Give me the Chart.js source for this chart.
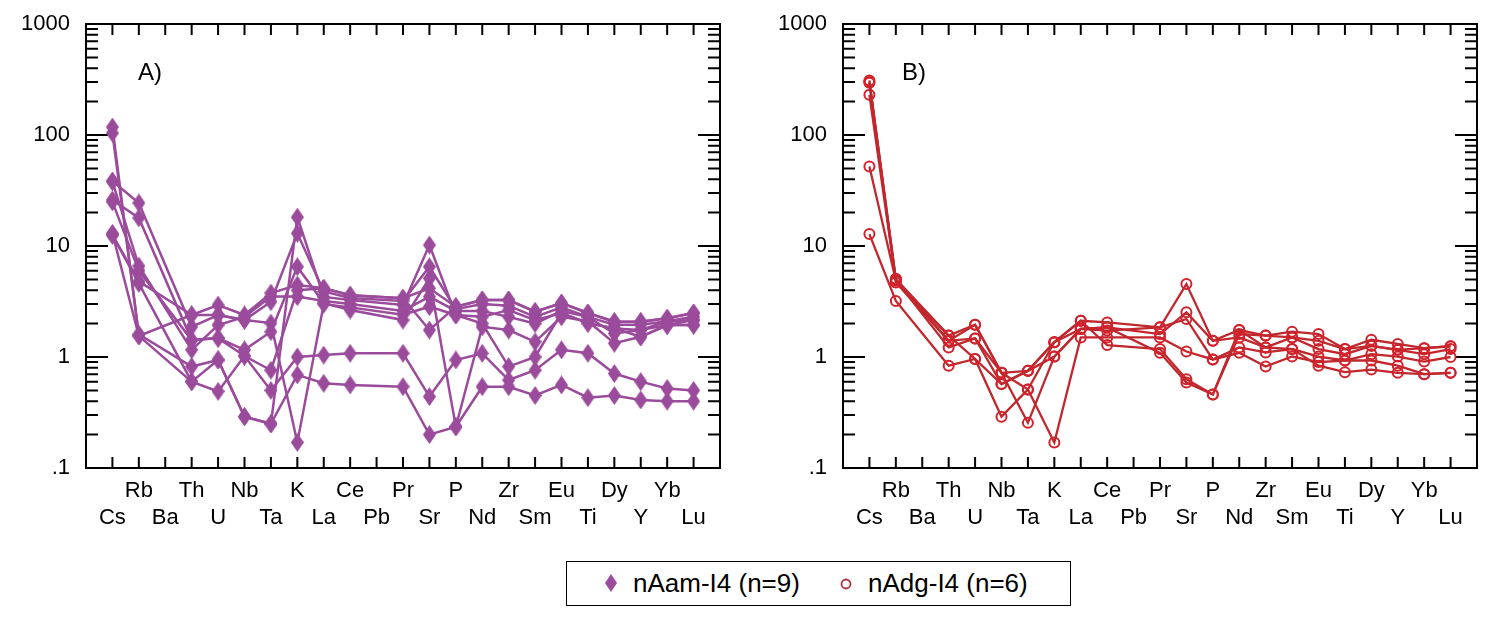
<!DOCTYPE html>
<html>
<head>
<meta charset="utf-8">
<script src="https://cdn.jsdelivr.net/npm/chart.js@4.4.1/dist/chart.umd.min.js"></script>
<style>
    body { margin: 0; background: #fff; width: 1499px; height: 628px; overflow: hidden; position: relative; font-family: 'Liberation Sans', Arial, sans-serif; }
    canvas.panel { position: absolute; top: 0; }
    #chartA { left: 0; }
    #chartB { left: 757px; }
    .tag { position: absolute; top: 58px; font-size: 24px; line-height: 28px; color: #000; }
    #legend { position: absolute; left: 566px; top: 561px; width: 505px; height: 45px; border: 1.5px solid #000; box-sizing: border-box; font-size: 26px; }
    #legend span { position: absolute; top: 6px; line-height: 30px; white-space: nowrap; }
    #legend canvas { position: absolute; }
</style>
</head>
<body>
<canvas id="chartA" class="panel" width="741" height="545"></canvas>
<canvas id="chartB" class="panel" width="741" height="545"></canvas>
<div class="tag" style="left:138px">A)</div>
<div class="tag" style="left:902px">B)</div>
<div id="legend">
    <canvas id="legDiamond" width="14" height="19" style="left:37px; top:12px"></canvas>
    <span style="left:66px">nAam-I4 (n=9)</span>
    <canvas id="legCircle" width="14" height="14" style="left:272px; top:15px"></canvas>
    <span style="left:301px">nAdg-I4 (n=6)</span>
</div>
<script>
// element order on the x axis (Ba and Pb have no data)
const elements = ['Cs', 'Rb', 'Ba', 'Th', 'U', 'Nb', 'Ta', 'K', 'La', 'Ce', 'Pb', 'Pr', 'Sr', 'P', 'Nd', 'Zr', 'Sm', 'Eu', 'Ti', 'Dy', 'Y', 'Yb', 'Lu'];
const yTickText = ['.1', '1', '10', '100', '1000'];

// A) nAam-I4 (n=9)
const am1 = [118, 1.55, null, 2.39, 2.94, 2.39, 3.77, 4.45, 4.16, 3.6, null, 3.38, 4.16, 2.84, 3.26, 3.26, 2.56, 3.06, 2.49, 2.08, 2.08, 2.23, 2.49];
const am2 = [104, 1.6, null, 0.82, 0.94, 0.29, 0.25, 18.2, 3.48, 3.26, null, 2.94, 10.2, 2.39, 2.3, 2.65, 2.15, 2.49, 2.02, 1.81, 1.75, 1.94, 2.15];
const am3 = [38.5, 24.4, null, 1.87, 2.39, 2.15, 3.15, 13.0, 3.9, 3.4, null, 3.2, 6.5, 2.7, 3.0, 2.9, 2.3, 2.8, 2.3, 1.95, 1.95, 2.1, 2.3];
const am4 = [26, 17.9, null, 1.42, 1.48, 1.16, 1.69, 6.5, 3.06, 2.65, null, 2.15, 5.1, 0.235, 1.87, 1.75, 1.37, 2.3, 2.1, 1.33, 1.52, 1.94, 1.94];
const am5 = [38, 6.6, null, 1.16, 1.94, 2.3, 3.5, 3.5, 3.2, 3.0, null, 2.6, 3.5, 2.6, 2.6, 2.3, 2.0, 2.6, 2.3, 1.63, 1.75, 2.1, 2.15];
const am6 = [12.6, 4.8, null, 2.39, 2.39, 2.15, 2.02, 0.17, 3.0, 2.8, null, 2.4, 2.84, 2.39, 2.0, 0.82, 1.0, 2.49, 2.02, 1.81, 1.52, 1.94, 1.94];
const am7 = [25, 6.0, null, 1.42, 1.48, 1.02, 0.76, 4.0, 4.16, 3.6, null, 3.38, 1.75, 2.84, 3.26, 3.26, 2.56, 3.06, 2.49, 2.08, 2.08, 2.23, 2.49];
const am8 = [12.5, 4.6, null, 0.60, 0.49, 1.02, 0.50, 1.0, 1.04, 1.08, null, 1.08, 0.44, 0.94, 1.08, 0.62, 0.76, 1.16, 1.08, 0.71, 0.60, 0.52, 0.50];
const am9 = [13, 1.55, null, 0.60, 0.94, 0.29, 0.25, 0.69, 0.58, 0.56, null, 0.54, 0.2, 0.235, 0.54, 0.54, 0.45, 0.56, 0.43, 0.45, 0.41, 0.40, 0.40];

// B) nAdg-I4 (n=6)
const dg1 = [310, 5.04, null, 1.56, 1.95, 0.72, 0.51, 1.36, 2.12, 2.05, null, 1.85, 4.54, 1.40, 1.75, 1.56, 1.69, 1.61, 1.18, 1.43, 1.31, 1.20, 1.25];
const dg2 = [300, 4.7, null, 1.40, 1.47, 0.57, 0.75, 1.01, 1.79, 1.85, null, 1.61, 2.53, 1.40, 1.50, 1.22, 1.50, 1.18, 1.06, 1.26, 1.16, 1.06, 1.18];
const dg3 = [230, 4.9, null, 1.22, 1.47, 0.72, 0.255, 1.01, 1.79, 1.73, null, 1.85, 2.2, 0.95, 1.22, 1.10, 1.18, 1.01, 0.93, 1.06, 1.01, 0.91, 1.0];
const dg4 = [52, 4.9, null, 1.56, 0.96, 0.29, 0.51, 0.17, 1.50, 1.50, null, 1.50, 1.12, 0.95, 1.09, 0.82, 1.01, 0.90, 0.93, 0.93, 0.835, 0.70, 0.72];
const dg5 = [12.8, 3.2, null, 0.835, 0.96, 0.57, 0.75, 1.36, 2.12, 1.28, null, 1.18, 0.63, 0.46, 1.75, 1.22, 1.18, 0.835, 0.73, 0.77, 0.72, 0.70, 0.72];
const dg6 = [295, 5.04, null, 1.40, 1.95, 0.72, 0.75, 1.36, 1.79, 1.85, null, 1.09, 0.59, 0.46, 1.61, 1.56, 1.50, 1.40, 1.18, 1.26, 1.16, 1.20, 1.25];

const purple = '#9b4b9b';
const redMark = '#d3222b';
const redLine = '#c0282e';

function makeDiamond(w, h, color) {
    const c = document.createElement('canvas');
    c.width = w; c.height = h;
    const g = c.getContext('2d');
    g.fillStyle = color;
    g.beginPath();
    g.moveTo(w / 2, 0); g.lineTo(w, h / 2); g.lineTo(w / 2, h); g.lineTo(0, h / 2);
    g.closePath();
    g.fill();
    return c;
}
const diamond = makeDiamond(13, 19, purple);

function toPoints(arr) {
    return arr.map((v, i) => ({ x: i, y: v })).filter(p => p.y !== null);
}

// frame + inward ticks on all four sides
const frameTicks = {
    id: 'frameTicks',
    beforeDatasetsDraw(chart) {
        const { ctx, chartArea: a, scales: { x, y } } = chart;
        ctx.save();
        ctx.strokeStyle = '#000';
        ctx.lineWidth = 2;
        ctx.beginPath();
        elements.forEach((el, i) => {
            const px = x.getPixelForValue(i);
            ctx.moveTo(px, a.bottom); ctx.lineTo(px, a.bottom - 11);
            ctx.moveTo(px, a.top); ctx.lineTo(px, a.top + 11);
        });
        for (let e = -1; e <= 3; e++) {
            for (let m = 1; m <= 9; m++) {
                const v = m * Math.pow(10, e);
                if (v > 1000.001) break;
                const py = y.getPixelForValue(v);
                const len = m === 1 ? 22 : 12;
                ctx.moveTo(a.left, py); ctx.lineTo(a.left + len, py);
                ctx.moveTo(a.right, py); ctx.lineTo(a.right - len, py);
            }
        }
        ctx.stroke();
        ctx.strokeRect(a.left, a.top, a.right - a.left, a.bottom - a.top);
        ctx.restore();
    }
};

function panelOptions() {
    return {
        responsive: false,
        animation: false,
        events: [],
        layout: { padding: { top: 24, right: 21, left: 0, bottom: 0 } },
        plugins: { legend: { display: false }, tooltip: { enabled: false } },
        scales: {
            x: {
                type: 'linear',
                min: -1,
                max: 23,
                grid: { display: false },
                border: { display: false },
                afterFit: s => { s.height = 77; },
                ticks: {
                    stepSize: 1,
                    autoSkip: false,
                    maxRotation: 0,
                    minRotation: 0,
                    padding: 1,
                    color: '#000',
                    font: { family: "'Liberation Sans', Arial, sans-serif", size: 22, lineHeight: 1.23 },
                    callback: v => {
                        const el = elements[v];
                        if (!el) return '';
                        return v % 2 === 0 ? ['', el] : [el];
                    }
                }
            },
            y: {
                type: 'logarithmic',
                min: 0.1,
                max: 1000,
                grid: { display: false },
                border: { display: false },
                afterFit: s => { s.width = 86; },
                ticks: {
                    autoSkip: false,
                    padding: 8,
                    color: '#000',
                    font: { family: "'Liberation Sans', Arial, sans-serif", size: 22 },
                    callback: v => {
                        const l = Math.log10(v);
                        const r = Math.round(l);
                        return Math.abs(l - r) < 1e-6 ? yTickText[r + 1] : '';
                    }
                }
            }
        }
    };
}

const amSeries = [am1, am2, am3, am4, am5, am6, am7, am8, am9];
const dgSeries = [dg1, dg2, dg3, dg4, dg5, dg6];

new Chart(document.getElementById('chartA').getContext('2d'), {
    type: 'line',
    data: {
        datasets: amSeries.map(s => ({
            data: toPoints(s),
            borderColor: purple,
            borderWidth: 2.5,
            pointStyle: diamond,
            pointRadius: 7,
            tension: 0
        }))
    },
    options: panelOptions(),
    plugins: [frameTicks]
});

new Chart(document.getElementById('chartB').getContext('2d'), {
    type: 'line',
    data: {
        datasets: dgSeries.map(s => ({
            data: toPoints(s),
            borderColor: redLine,
            borderWidth: 2.3,
            pointStyle: 'circle',
            pointRadius: 5,
            pointBorderWidth: 2,
            pointBorderColor: redMark,
            pointBackgroundColor: 'rgba(255,255,255,0)',
            tension: 0
        }))
    },
    options: panelOptions(),
    plugins: [frameTicks]
});

// legend symbols
const ld = document.getElementById('legDiamond').getContext('2d');
ld.drawImage(makeDiamond(12, 18, purple), 1, 0);
const lc = document.getElementById('legCircle').getContext('2d');
lc.strokeStyle = '#b3303a';
lc.lineWidth = 1.8;
lc.beginPath();
lc.arc(7, 7, 4.5, 0, Math.PI * 2);
lc.stroke();
</script>
</body>
</html>
